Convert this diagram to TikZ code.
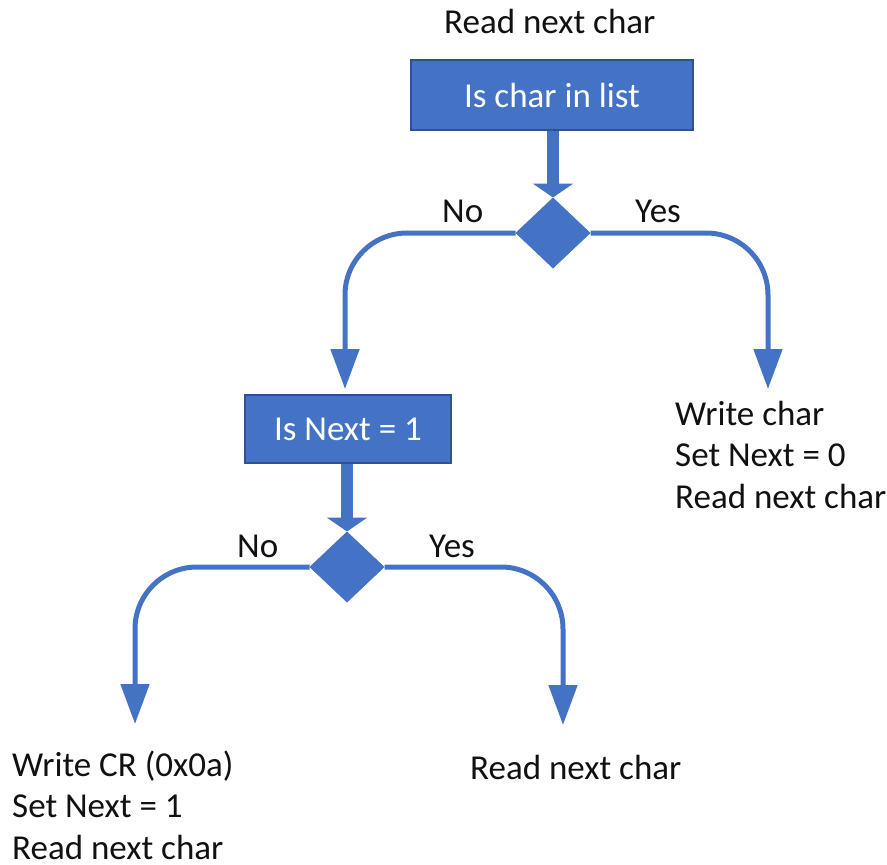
\documentclass[tikz,border=0pt]{standalone}
\usepackage{fontspec}
\setmainfont{Carlito}
\usetikzlibrary{shapes.geometric,arrows.meta}

\definecolor{flowblue}{HTML}{4472C4}
\definecolor{flowedge}{HTML}{2F528F}
\definecolor{labelink}{HTML}{111111}

\tikzset{
  txt/.style={font=\fontsize{35}{41.5}\selectfont, text=labelink, inner sep=0pt, anchor=base west, align=left},
  testbox/.style={draw=flowedge, line width=1.5pt, fill=flowblue, text=white,
    font=\fontsize{35}{41.5}\selectfont, inner sep=0pt},
  decision/.style={diamond, draw=flowblue, line width=1pt, fill=flowblue, inner sep=0pt,
    minimum width=74pt, minimum height=70pt},
  feed/.style={draw=flowblue, line width=12pt, -{Triangle[width=40pt,length=14pt]}},
  branch/.style={draw=flowblue, line width=5pt, rounded corners=62pt,
    -{Triangle[width=28pt,length=40pt]}}
}

\begin{document}
\begin{tikzpicture}[x=1pt,y=-1pt]
  \useasboundingbox (0,0) rectangle (887,865);

  % first test: is the character in the list?
  \node[txt] (start) at (444,33) {Read next char};
  \node[testbox, minimum width=282pt, minimum height=70pt] (inlist) at (552,95) {Is char in list};
  \node[decision] (d1) at (553,233) {};
  \draw[feed] (inlist.south -| d1) -- (d1.north);

  % second test: is Next set?
  \node[testbox, minimum width=206pt, minimum height=68pt] (isnext) at (348,429) {Is Next = 1};
  \node[decision] (d2) at (347,567) {};
  \draw[feed] (isnext.south -| d2) -- (d2.north);

  % branches of the first test
  \coordinate (noTip1) at (345,389);
  \coordinate (yesTip1) at (768,389);
  \draw[branch] (d1.west) -| (noTip1);
  \draw[branch] (d1.east) -| (yesTip1);
  \node[txt] (no1) at (442,222) {No};
  \node[txt] (yes1) at (635,222) {Yes};

  % branches of the second test
  \coordinate (noTip2) at (135,724);
  \coordinate (yesTip2) at (563,725);
  \draw[branch] (d2.west) -| (noTip2);
  \draw[branch] (d2.east) -| (yesTip2);
  \node[txt] (no2) at (237,557) {No};
  \node[txt] (yes2) at (429,557) {Yes};

  % actions (the base anchor of a multi-line node sits on its last line)
  \node[txt] (act1) at (675,508) {Write char\\Set Next = 0\\Read next char};
  \node[txt] (act2) at (12,859) {Write CR (0x0a)\\Set Next = 1\\Read next char};
  \node[txt] (act3) at (470,779) {Read next char};
\end{tikzpicture}
\end{document}
